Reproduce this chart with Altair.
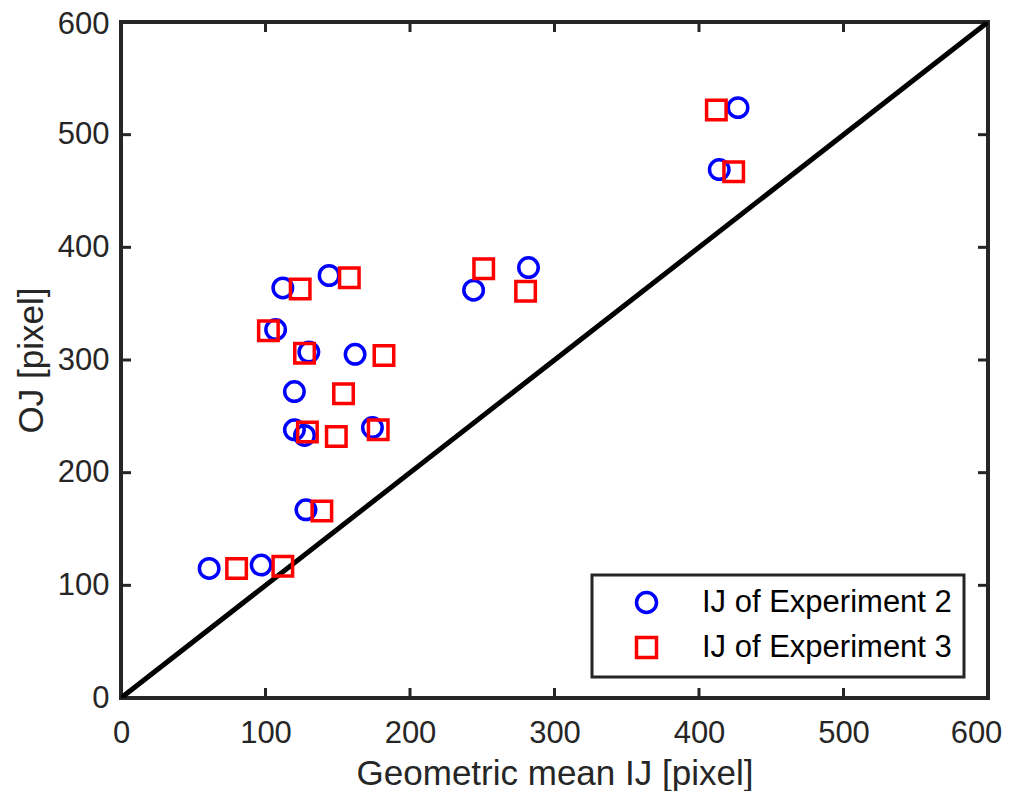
import altair as alt
import pandas as pd

# Experiment 2 (blue circles)
exp2_x = [61, 97, 112, 144, 107, 130, 162, 120, 120, 127, 174, 128, 427, 414, 244, 282]
exp2_y = [115, 118, 364, 375, 327, 307, 305, 272, 238, 233, 240, 167, 524, 469, 362, 382]
# Experiment 3 (red squares)
exp3_x = [80, 112, 124, 158, 102, 127, 182, 154, 129, 149, 178, 139, 412, 424, 251, 280]
exp3_y = [115, 117, 363, 373, 326, 306, 304, 270, 236, 232, 238, 166, 522, 467, 381, 361]

series = ["IJ of Experiment 2", "IJ of Experiment 3"]
diag = [0, 600]
ticks = [0, 100, 200, 300, 400, 500, 600]

W, H = 867, 676
FONT = "Liberation Sans"

pts = pd.DataFrame({
    "x": exp2_x + exp3_x,
    "y": exp2_y + exp3_y,
    "s": [series[0]] * len(exp2_x) + [series[1]] * len(exp3_x),
})
diag_df = pd.DataFrame({"x": diag, "y": diag})
tick_df = pd.DataFrame({"t": ticks[1:-1]})

xs = alt.Scale(domain=[0, 600], nice=False, zero=False)
ys = alt.Scale(domain=[0, 600], nice=False, zero=False)

xaxis = alt.Axis(values=ticks, title="Geometric mean IJ [pixel]", ticks=False, domain=False,
                 grid=False, labelPadding=20, titlePadding=8, format="d", labelFlush=False,
                 labelOffset={"condition": {"test": "datum.value == 600", "value": -12}, "value": 0})
yaxis = alt.Axis(values=ticks, title="OJ [pixel]", ticks=False, domain=False,
                 grid=False, labelPadding=12, titlePadding=8, format="d", labelFlush=False,
                 labelOffset={"condition": {"test": "datum.value == 600", "value": 2}, "value": 0})

line = alt.Chart(diag_df).mark_line(color="black", strokeWidth=5, clip=True).encode(
    x=alt.X("x:Q", scale=xs, axis=xaxis),
    y=alt.Y("y:Q", scale=ys, axis=yaxis),
)

tick_col = "#262626"
bt = alt.Chart(tick_df).mark_rule(color=tick_col, strokeWidth=3).encode(
    x=alt.X("t:Q", scale=xs), y=alt.value(H), y2=alt.value(H - 10))
tt = alt.Chart(tick_df).mark_rule(color=tick_col, strokeWidth=3).encode(
    x=alt.X("t:Q", scale=xs), y=alt.value(0), y2=alt.value(10))
lt = alt.Chart(tick_df).mark_rule(color=tick_col, strokeWidth=3).encode(
    y=alt.Y("t:Q", scale=ys), x=alt.value(0), x2=alt.value(10))
rt = alt.Chart(tick_df).mark_rule(color=tick_col, strokeWidth=3).encode(
    y=alt.Y("t:Q", scale=ys), x=alt.value(W), x2=alt.value(W - 10))

legend = alt.Legend(
    title=None, orient="none", legendX=471, legendY=553,
    labelFontSize=31, labelFont=FONT, labelColor="black", labelLimit=600,
    symbolSize=400, symbolStrokeWidth=3.5, symbolOffset=27, symbolOpacity=1,
    labelOffset=40, padding=12, rowPadding=10,
    strokeColor="#262626", fillColor="white",
)

points = alt.Chart(pts).mark_point(filled=False, size=380, strokeWidth=3.5, opacity=1).encode(
    x=alt.X("x:Q", scale=xs),
    y=alt.Y("y:Q", scale=ys),
    color=alt.Color("s:N", scale=alt.Scale(domain=series, range=["#0000FF", "#FF0000"]), legend=legend),
    shape=alt.Shape("s:N", scale=alt.Scale(domain=series, range=["circle", "square"]), legend=legend),
)

chart = alt.layer(line, bt, tt, lt, rt, points).properties(
    width=W, height=H,
    autosize=alt.AutoSizeParams(type="none"),
    padding={"left": 113, "top": 14, "right": 15, "bottom": 93},
).configure_view(
    stroke="#262626", strokeWidth=4
).configure_axis(
    labelFont=FONT, labelFontSize=31, labelColor="#262626",
    titleFont=FONT, titleFontSize=35, titleColor="#262626", titleFontWeight="normal",
).configure_legend(
    strokeWidth=3
)

chart.save("out.html", embed_options={"renderer": "svg", "actions": False})
